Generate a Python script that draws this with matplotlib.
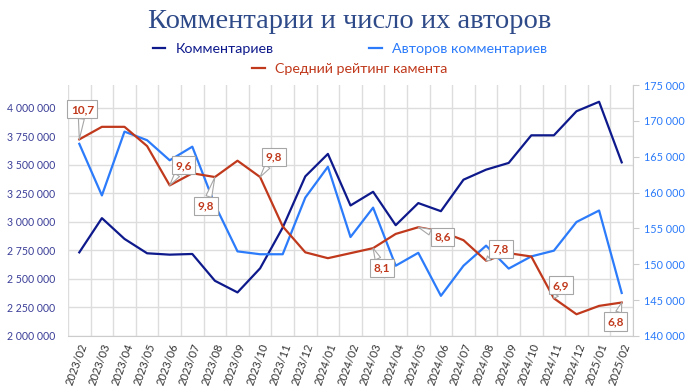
import matplotlib
matplotlib.use("Agg")
import matplotlib.pyplot as plt
from matplotlib.lines import Line2D
from matplotlib.ticker import FuncFormatter, MultipleLocator

months = [
    "2023/02", "2023/03", "2023/04", "2023/05", "2023/06", "2023/07", "2023/08",
    "2023/09", "2023/10", "2023/11", "2023/12", "2024/01", "2024/02", "2024/03",
    "2024/04", "2024/05", "2024/06", "2024/07", "2024/08", "2024/09", "2024/10",
    "2024/11", "2024/12", "2025/01", "2025/02",
]
comments = [
    2733000, 3033000, 2851000, 2725000, 2713000, 2719000, 2484000,
    2382000, 2593000, 2950000, 3399000, 3596000, 3144000, 3264000,
    2971000, 3165000, 3094000, 3370000, 3458000, 3517000, 3759000,
    3759000, 3970000, 4053000, 3522000,
]
authors = [
    166800, 159600, 168500, 167300, 164500, 166400, 158300,
    151800, 151400, 151400, 159300, 163600, 153800, 157900,
    149800, 151600, 145600, 149800, 152600, 149400, 151100,
    151900, 155900, 157500, 146000,
]
rating = [
    10.7, 11.0, 11.0, 10.54, 9.6, 9.89, 9.8,
    10.19, 9.8, 8.62, 8.0, 7.86, 7.98, 8.1,
    8.44, 8.6, 8.5, 8.29, 7.8, 7.98, 7.9,
    6.9, 6.52, 6.72, 6.8,
]
# indices of labelled rating points -> label offset in pixels (dx, dy)
label_offsets = {0: (3, 30), 4: (14, 20), 6: (-9, -29), 8: (14, 20), 13: (9, -20),
                 15: (24, -10), 18: (15, 12), 21: (7, 13), 24: (-6, -19)}

c_comments = "#0E1A8C"
c_authors = "#2B7BFA"
c_rating = "#C0391C"
grid_c = "#DDDDDD"

plt.rcParams["font.family"] = ["Lato", "DejaVu Sans"]

fig = plt.figure(figsize=(7, 3.86), dpi=100)
ax = fig.add_axes([68 / 700, 1 - 336 / 386, (633 - 68) / 700, (336 - 85) / 386])
x = list(range(len(months)))

ax.plot(x, comments, color=c_comments, lw=1.6, zorder=3)
ax.set_xlim(-0.5, len(months) - 0.5)
ax.set_ylim(2000000, 4200000)
ax.yaxis.set_major_locator(MultipleLocator(250000))
ax.yaxis.set_major_formatter(FuncFormatter(lambda v, p: f"{v:,.0f}".replace(",", " ")))
ax.set_xticks(x)
ax.set_xticklabels(months, rotation=70, ha="right", rotation_mode="anchor", fontsize=8, color="#333333")
ax.set_xticks([i - 0.5 for i in range(len(months) + 1)], minor=True)
ax.grid(True, which="minor", axis="x", color=grid_c, lw=1)
ax.grid(True, which="major", axis="y", color=grid_c, lw=1)
ax.tick_params(axis="x", which="both", length=0, pad=4)
ax.tick_params(axis="y", length=0, labelsize=7.6, labelcolor="#3C3F98", pad=9)
for s in ["top", "right", "left"]:
    ax.spines[s].set_visible(False)
ax.spines["bottom"].set_color("#CCCCCC")
ax.set_axisbelow(True)

ax2 = ax.twinx()
ax2.plot(x, authors, color=c_authors, lw=1.6)
ax2.set_ylim(140000, 175000)
ax2.yaxis.set_major_locator(MultipleLocator(5000))
ax2.yaxis.set_major_formatter(FuncFormatter(lambda v, p: f"{v:,.0f}".replace(",", " ")))
ax2.tick_params(axis="y", length=4, color="#CCCCCC", labelsize=7.8, labelcolor=c_authors, pad=4)
for s in ["top", "left", "bottom"]:
    ax2.spines[s].set_visible(False)
ax2.spines["right"].set_color("#CCCCCC")

ax3 = ax.twinx()
ax3.plot(x, rating, color=c_rating, lw=1.6)
ax3.set_ylim(6, 12)
ax3.axis("off")
for i, (dx, dy) in label_offsets.items():
    ax3.annotate(
        f"{rating[i]:.1f}".replace(".", ","),
        xy=(i, rating[i]), xytext=(dx, dy), textcoords="offset pixels",
        ha="center", va="center", fontsize=8.5, fontweight="bold", color=c_rating,
        bbox=dict(boxstyle="square,pad=0.3", fc="white", ec="#A6A6A6", lw=0.8),
        arrowprops=dict(arrowstyle="wedge,tail_width=0.5,shrink_factor=0.5", fc="white",
                        ec="#A6A6A6", lw=0.8, shrinkA=0, shrinkB=0),
    )

fig.text(0.5, 0.945, "Комментарии и число их авторов", ha="center", va="center",
         fontsize=20.5, color="#2E4A88", family="Liberation Serif")

h1 = [Line2D([], [], color=c_comments, lw=1.6), Line2D([], [], color=c_authors, lw=1.6)]
fig.legend(h1, ["Комментариев", "Авторов комментариев"], ncol=2,
           loc="center", bbox_to_anchor=(0.5, 1 - 49 / 386), frameon=False,
           fontsize=10.3, handlelength=0.9, handletextpad=0.7, columnspacing=6.7,
           labelcolor=[c_comments, c_authors])
h2 = [Line2D([], [], color=c_rating, lw=1.6)]
fig.legend(h2, ["Средний рейтинг камента"], loc="center",
           bbox_to_anchor=(0.5, 1 - 69 / 386), frameon=False, fontsize=10.3,
           handlelength=0.9, handletextpad=0.7, labelcolor=[c_rating])

fig.savefig("out.png", dpi=100)
